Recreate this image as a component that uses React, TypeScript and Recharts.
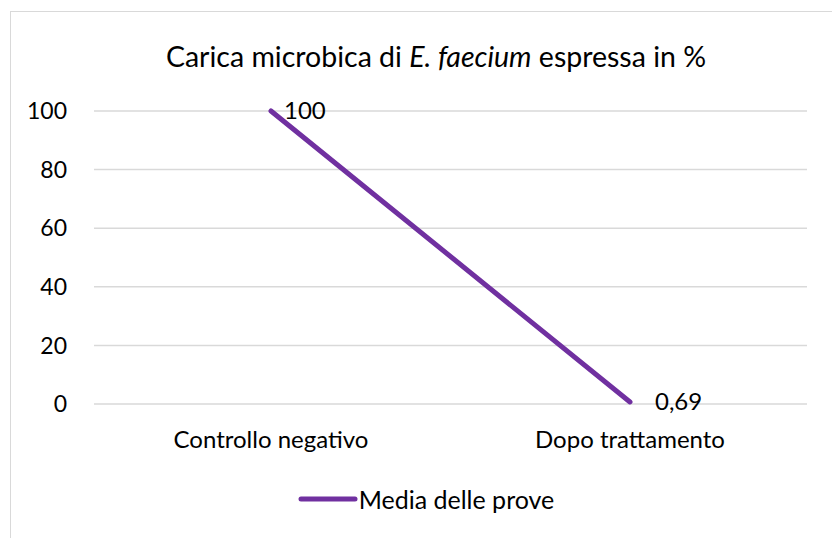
import React from "react"
import { LineChart, Line, XAxis, YAxis, CartesianGrid, LabelList } from "recharts"

const categories = ["Controllo negativo", "Dopo trattamento"]
const mediaValues = [100, 0.69]
const yTicks = [0, 20, 40, 60, 80, 100]

const data = categories.map((name, i) => ({ name, media: mediaValues[i] }))

const FONT = "Lato, 'Open Sans', sans-serif"
const PURPLE = "#7030A0"
const TICK_SIZE = 24

function formatIt(v: number) {
  return String(v).replace(".", ",")
}

function PointLabel(props: any) {
  const { x, y, value, index } = props
  const dx = index === 0 ? 13 : 25
  return (
    <text x={x + dx} y={y} dy="0.35em" fontSize={TICK_SIZE} fill="#000" fontFamily={FONT}>
      {formatIt(value)}
    </text>
  )
}

export default function App() {
  return (
    <div style={{ position: "absolute", left: 0, top: 0, width: 832, height: 538, background: "#fff", overflow: "hidden" }}>
      <div
        style={{
          position: "absolute",
          left: 10,
          top: 11,
          width: 840,
          height: 560,
          borderLeft: "1px solid #d9d9d9",
          borderTop: "1px solid #d9d9d9",
        }}
      />
      <div
        style={{
          position: "absolute",
          left: 40,
          top: 39,
          width: 792,
          textAlign: "center",
          fontFamily: FONT,
          fontSize: 28.5,
          lineHeight: "34px",
          color: "#000",
        }}
      >
        Carica microbica di <i>E. faecium</i> espressa in %
      </div>
      <div style={{ position: "absolute", left: 0, top: 0 }}>
        <LineChart width={832} height={538} data={data} margin={{ top: 111, right: 25, left: 24, bottom: 84 }}>
          <CartesianGrid vertical={false} stroke="#d9d9d9" strokeWidth={1.5} />
          <XAxis
            dataKey="name"
            axisLine={false}
            tickLine={false}
            tickSize={0}
            tickMargin={27}
            height={50}
            padding={{ left: 177, right: 177 }}
            tick={{ fontSize: TICK_SIZE, fill: "#000", fontFamily: FONT }}
          />
          <YAxis
            domain={[0, 100]}
            ticks={yTicks}
            width={70}
            axisLine={false}
            tickLine={false}
            tickSize={0}
            tickMargin={27}
            tick={{ fontSize: 23, fill: "#000", fontFamily: FONT }}
          />
          <Line
            dataKey="media"
            name="Media delle prove"
            stroke={PURPLE}
            strokeWidth={5}
            strokeLinecap="round"
            dot={false}
            activeDot={false}
            isAnimationActive={false}
          >
            <LabelList dataKey="media" content={<PointLabel />} />
          </Line>
        </LineChart>
      </div>
      <div
        style={{
          position: "absolute",
          left: 0,
          top: 484,
          width: 832,
          display: "flex",
          justifyContent: "center",
          alignItems: "center",
          fontFamily: FONT,
          fontSize: 25,
          color: "#000",
        }}
      >
        <div style={{ display: "flex", alignItems: "center", marginLeft: 20 }}>
          <svg width={60} height={10} style={{ marginRight: 1 }}>
            <line x1={3} y1={5} x2={57} y2={5} stroke={PURPLE} strokeWidth={5} strokeLinecap="round" />
          </svg>
          <span>Media delle prove</span>
        </div>
      </div>
    </div>
  )
}
